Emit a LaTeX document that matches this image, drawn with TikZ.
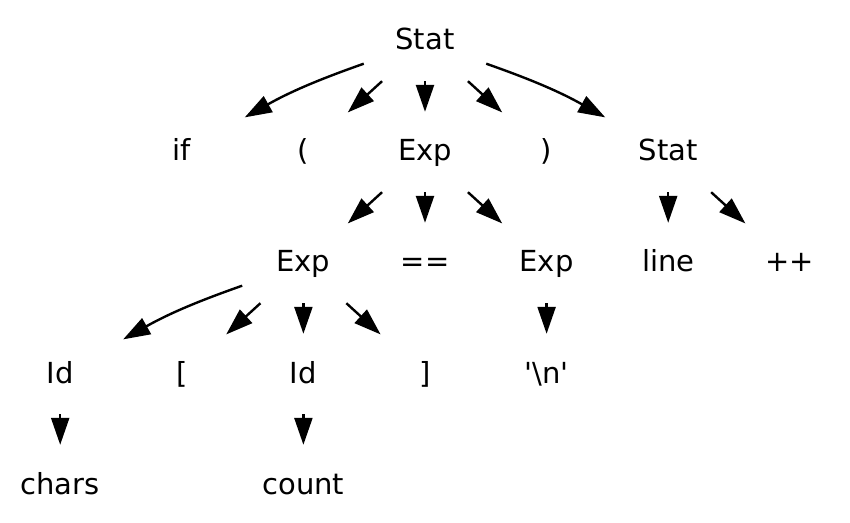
\documentclass[tikz,border=0pt]{standalone}
\usepackage{fontspec}
\setmainfont{DejaVu Sans}
\usetikzlibrary{positioning,arrows.meta}
\tikzset{>={Triangle[length=13.5pt,width=9pt]}}

\begin{document}
\begin{tikzpicture}[shorten >=1pt, node distance=55.5pt and 60.8pt, on grid, line width=1.2pt,
        tok/.style={minimum width=60pt, minimum height=38pt, inner sep=0pt,
            text height=11pt, text depth=3pt, font=\fontsize{14.5}{17}\selectfont}]
        \useasboundingbox (-212.5pt,21pt) rectangle (212.5pt,-240.5pt);

        \node [tok] (stat) {Stat};

        \node [tok, below = of stat] (exp) {Exp};
        \node [tok, left = of exp] (lparen) {(};
        \node [tok, left = of lparen] (if) {if};
        \node [tok, right = of exp] (rparen) {)};
        \node [tok, right = of rparen] (stat2) {Stat};

        \node [tok, below = of exp] (eq) {==};
        \node [tok, left = of eq] (exp2) {Exp};
        \node [tok, right = of eq] (exp3) {Exp};
        \node [tok, below = of stat2] (line) {line};
        \node [tok, right = of line] (incr) {++};

        \node [tok, below = of eq] (rbrack) {]};
        \node [tok, below = of exp2] (id2) {Id};
        \node [tok, left = of id2] (lbrack) {[};
        \node [tok, left = of lbrack] (id1) {Id};
        \node [tok, below = of exp3] (nl) {\textquotesingle\textbackslash n\textquotesingle};

        \node [tok, below = of id1] (chars) {chars};
        \node [tok, below = of id2] (count) {count};

        \path[->] (stat) edge [bend right=5] (if);
        \path[->] (stat) edge (lparen);
        \path[->] (stat) edge (exp);
        \path[->] (stat) edge (rparen);
        \path[->] (stat) edge [bend left=5] (stat2);

        \path[->] (exp) edge (exp2);
        \path[->] (exp) edge (eq);
        \path[->] (exp) edge (exp3);

        \path[->] (stat2) edge (line);
        \path[->] (stat2) edge (incr);

        \path[->] (exp2) edge [bend right=5] (id1);
        \path[->] (exp2) edge (lbrack);
        \path[->] (exp2) edge (id2);
        \path[->] (exp2) edge (rbrack);

        \path[->] (exp3) edge (nl);

        \path[->] (id1) edge (chars);
        \path[->] (id2) edge (count);
    \end{tikzpicture}
\end{document}
